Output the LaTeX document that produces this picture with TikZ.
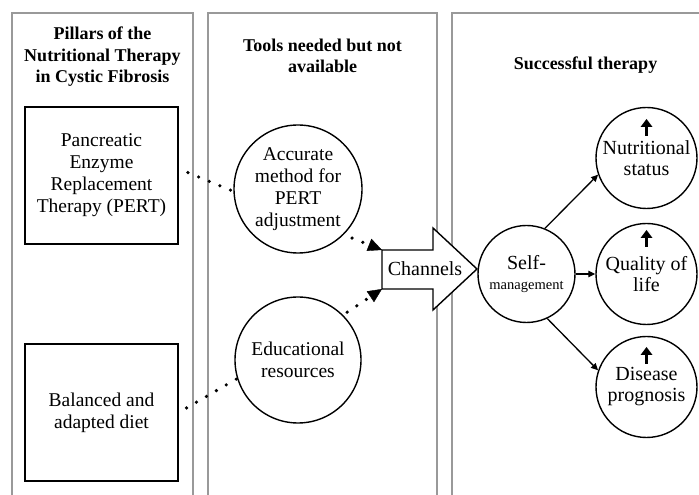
\documentclass[tikz,border=0pt]{standalone}
\usepackage{fontspec}
\setmainfont{Liberation Serif}
\usetikzlibrary{arrows.meta}

\begin{document}
\begin{tikzpicture}[x=1pt,y=1pt,
  panel/.style={draw=black!40, line width=1.3pt},
  title/.style={font=\fontsize{18}{21.5}\selectfont\bfseries, align=center},
  body/.style={font=\fontsize{19.5}{22}\selectfont, align=center},
  bigbody/.style={font=\fontsize{20}{21}\selectfont, align=center},
  pillar/.style={body, draw, line width=1.5pt, minimum width=153pt, minimum height=137pt, inner sep=0pt},
  bubble/.style={draw, circle, line width=1.4pt, inner sep=0pt},
  dotline/.style={line width=3.6pt, line cap=round, dash pattern=on 0pt off 11.5pt},
  dottip/.style={-{Triangle[length=14pt,width=13pt,line width=0.4pt]}},
  link/.style={line width=1.3pt, -{Triangle[length=7pt,width=6.5pt]}},
  rise/.style={line width=3.2pt, -{Triangle[length=8pt,width=12pt,line width=0pt]}},
]
\clip (0,0) rectangle (699,495);
\fill[white] (0,0) rectangle (699,495);

% three column frames
\draw[panel] (12,-10) rectangle (193,482);
\draw[panel] (208,-10) rectangle (437,482);
\draw[panel] (452,-10) rectangle (730,482);

% column headings
\node[title] (t1) at (102.5,438) {Pillars of the\\Nutritional Therapy\\in Cystic Fibrosis};
\node[title] (t2) at (322.5,439) {Tools needed but not\\available};
\node[title] (t3) at (585.5,430) {Successful therapy};

% pillars
\node[pillar] (pert) at (101.5,319.5) {Pancreatic\\Enzyme\\Replacement\\Therapy (PERT)};
\node[pillar] (diet) at (101.5,82.5) {Balanced and\\adapted diet};

% missing tools
\node[bubble, body, minimum size=128pt] (acc) at (298,306) {Accurate\\method for\\PERT\\adjustment};
\node[bubble, body, minimum size=126pt] (edu) at (298,135) {Educational\\resources};

% channels block arrow
\coordinate (chtop) at (382,245);
\coordinate (chbot) at (382,206);
\draw[line width=1.4pt, fill=white, line join=miter]
  (chtop) -- (433,245) -- (433,267) -- (477,226) -- (433,185) -- (433,206) -- (chbot) -- cycle;
\node[bigbody] (chan) at (425,226) {Channels};

% dotted links
\draw[dotline, shorten <=10pt] (pert.5) -- (acc.182);
\draw[dotline, shorten <=9pt] (diet.east) -- (edu.197);
\draw[dotline, dottip, shorten <=9pt] (acc.-45) -- (chtop);
\draw[dotline, dottip, shorten <=5pt] (edu.45) -- (chbot);

% outcomes
\node[bubble, bigbody, minimum size=97pt] (self) at (526.5,221)
  {Self-\\[-1pt]{\fontsize{14.5}{17}\selectfont management}};
\node[bubble, bigbody, minimum size=101pt] (nut) at (646.5,337) {Nutritional\\status};
\node[bubble, bigbody, minimum size=101pt] (qol) at (646.5,221) {Quality of\\life};
\node[bubble, bigbody, minimum size=101pt] (dis) at (646.5,108) {Disease\\prognosis};

\draw[rise] ([yshift=22pt]nut.center) -- ++(0,17);
\draw[rise] ([yshift=27pt]qol.center) -- ++(0,17);
\draw[rise] ([yshift=23pt]dis.center) -- ++(0,17);

\draw[link] (self.68) -- (nut.199);
\draw[link] (self.east) -- (qol.west);
\draw[link] (self.-65) -- (dis.161);
\end{tikzpicture}
\end{document}
